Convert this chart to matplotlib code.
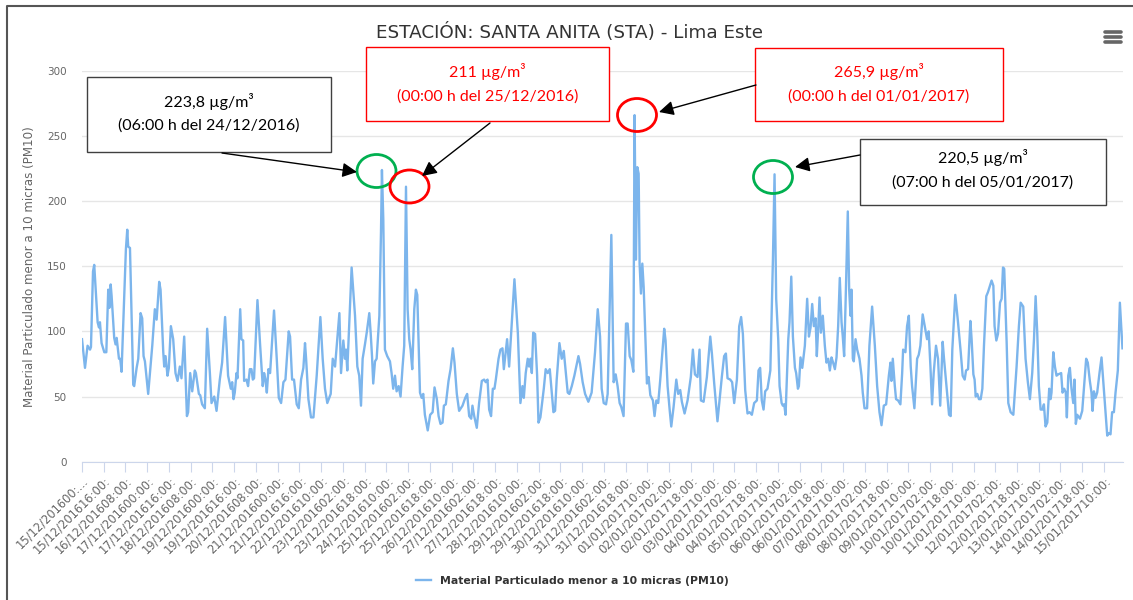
import matplotlib.pyplot as plt
import numpy as np
from matplotlib.patches import Ellipse, Rectangle, FancyArrowPatch
from matplotlib.lines import Line2D

W, H = 1133, 600

horas = [
    0, 2.2, 4.1, 5.9, 6.6, 8.1, 9.0, 11.5, 12.5, 13.2,
    14.4, 16.4, 17.9, 19.3, 20.1, 21.1, 21.8, 23.7, 24.7, 25.5,
    27.2, 28.1, 29.1, 32.3, 33.3, 34.0, 35.3, 37.7, 38.4, 40.2,
    41.4, 43.1, 44.3, 45.3, 46.3, 48.7, 51.7, 53.6, 54.9, 56.8,
    57.8, 59.8, 60.5, 61.5, 62.9, 63.9, 65.4, 67.1, 68.8, 70.3,
    72.0, 73.2, 75.2, 77.2, 78.1, 79.6, 81.1, 83.0, 83.8, 86.0,
    87.0, 88.4, 90.4, 92.1, 94.1, 95.3, 97.3, 99.0, 101.4, 103.1,
    105.3, 107.5, 109.5, 110.5, 111.5, 112.4, 113.7, 114.4, 116.4, 117.3,
    118.6, 119.3, 121.0, 122.2, 123.5, 124.7, 125.7, 126.6, 129.1, 131.1,
    133.0, 134.0, 135.0, 136.0, 137.2, 138.4, 141.3, 143.3, 144.8, 146.5,
    148.2, 149.7, 152.1, 153.1, 154.6, 156.0, 158.0, 159.5, 161.2, 162.9,
    164.1, 164.9, 166.6, 168.5, 170.3, 172.7, 175.4, 177.1, 178.8, 180.5,
    183.0, 184.5, 186.2, 189.4, 190.6, 192.3, 193.5, 194.3, 195.2, 198.4,
    200.9, 202.6, 204.0, 205.3, 206.5, 208.2, 209.5, 211.4, 212.4, 213.4,
    214.3, 215.6, 216.8, 218.8, 220.0, 220.7, 221.7, 222.9, 224.6, 226.6,
    227.8, 229.0, 230.3, 231.5, 233.0, 234.4, 235.9, 237.1, 238.4, 239.6,
    240.8, 241.8, 243.0, 244.5, 245.7, 246.7, 248.7, 249.9, 251.1, 252.3,
    254.4, 256.2, 258.0, 259.4, 261.1, 262.4, 263.8, 265.3, 266.3, 267.7,
    269.7, 271.2, 272.9, 274.1, 275.8, 277.5, 280.0, 282.0, 283.4, 284.9,
    286.4, 287.3, 288.6, 290.5, 292.2, 294.2, 295.9, 297.1, 298.4, 299.6,
    301.0, 302.3, 303.5, 304.5, 306.5, 307.9, 309.4, 310.4, 311.8, 312.8,
    314.3, 318.2, 320.7, 322.6, 324.1, 325.1, 326.5, 328.0, 329.0, 330.0,
    331.0, 332.0, 333.4, 334.9, 335.9, 337.3, 339.8, 341.2, 342.7, 344.2,
    345.7, 346.9, 348.1, 349.3, 351.3, 353.0, 354.5, 356.0, 357.4, 358.6,
    360.4, 362.3, 365.3, 366.5, 368.4, 370.2, 372.6, 375.0, 377.5, 379.5,
    381.2, 382.4, 383.9, 385.6, 386.8, 389.5, 391.2, 392.7, 394.1, 395.6,
    396.8, 398.5, 400.3, 401.5, 403.0, 404.2, 405.7, 406.6, 407.6, 408.6,
    409.6, 410.3, 411.3, 412.3, 413.3, 414.5, 415.7, 416.9, 418.2, 420.1,
    421.3, 422.6, 424.0, 425.5, 427.0, 428.4, 429.4, 430.9, 432.4, 433.6,
    435.3, 437.3, 438.7, 440.2, 441.4, 443.4, 445.6, 448.0, 449.5, 451.0,
    452.9, 454.4, 455.4, 457.4, 459.8, 462.3, 463.5, 465.2, 466.7, 467.6,
    469.1, 470.8, 472.5, 473.8, 475.0, 477.0, 478.4, 479.9, 481.9, 483.6,
    485.0, 486.3, 488.0, 489.7, 491.2, 492.9, 494.6, 496.6, 497.8, 499.0,
    500.2, 501.5, 502.7, 504.4, 506.5, 508.4, 509.6, 510.8, 512.3, 513.3,
    514.8, 515.7, 516.7, 517.7, 519.7, 520.6, 521.9, 523.1, 524.6, 525.5,
    526.8, 527.5, 528.7, 530.0, 531.9, 533.6, 534.9, 536.1, 537.3, 538.5,
    539.8, 540.7, 541.7, 542.7, 543.7, 545.1, 546.6, 547.8, 549.1, 550.3,
    551.5, 552.7, 554.0, 555.2, 556.4, 557.6, 558.9, 559.8, 560.8, 561.8,
    563.5, 564.5, 565.5, 566.2, 567.2, 567.9, 569.2, 570.4, 572.1, 573.6,
    574.5, 575.8, 577.7, 579.4, 581.4, 583.4, 585.1, 586.8, 588.3, 590.0,
    591.7, 593.7, 594.9, 595.6, 596.6, 598.1, 599.0, 600.5, 602.2, 603.5,
    604.2, 605.9, 607.1, 608.4, 609.8, 610.8, 612.5, 614.5, 615.7, 616.9,
    618.6, 620.1, 621.8, 623.0, 624.3, 625.5, 626.7, 628.4, 629.9, 631.5,
    633.3, 634.3, 636.3, 638.0, 639.2, 640.4, 642.6, 644.6, 646.6, 648.0,
    649.5, 650.5, 652.0, 653.7, 654.6, 655.9, 656.8, 657.6, 658.8, 660.0,
    661.3, 662.5, 663.7, 665.4, 666.6, 668.1, 669.3, 670.6, 671.5, 672.8,
    674.0, 675.5, 676.7, 677.7, 678.6, 680.4, 681.6, 683.3, 685.3, 687.7,
    689.4, 690.7, 692.6, 694.3, 696.0, 697.5, 699.2, 700.5, 701.7, 702.9,
    704.1, 705.4, 706.8, 707.8, 709.0, 710.3, 711.7, 712.7, 713.4, 714.7,
    715.9, 717.1, 718.3, 720.5, 721.5, 722.7, 723.9, 724.7, 725.7, 726.9,
    728.1, 729.4, 730.3, 731.3, 732.3, 734.3, 736.0, 737.2, 738.9, 740.1,
    741.6, 742.8, 743.6, 744.6, 745.8, 747.0, 748.7, 750.2, 751.4, 752.6,
    754.4, 755.6, 756.8, 758.0, 759.3, 760.5, 762.2, 763.7, 764.6, 765.6,
]
pm10 = [
    94, 72, 89, 86, 88, 146, 151, 107, 103, 107,
    91, 84, 84, 132, 118, 136, 127, 95, 90, 95,
    79, 79, 69, 163, 178, 165, 164, 59, 58, 72,
    79, 114, 110, 81, 77, 52, 89, 117, 109, 138,
    132, 84, 73, 81, 66, 72, 104, 94, 68, 62,
    73, 64, 96, 35, 38, 68, 54, 70, 68, 52,
    51, 44, 41, 102, 68, 45, 50, 39, 63, 76,
    111, 66, 56, 61, 48, 53, 68, 64, 117, 94,
    93, 62, 63, 58, 71, 71, 63, 64, 124, 89,
    58, 68, 63, 53, 71, 68, 116, 79, 49, 45,
    61, 63, 100, 96, 63, 63, 44, 41, 63, 72,
    91, 79, 48, 34, 34, 66, 111, 79, 56, 45,
    52, 79, 73, 114, 68, 93, 79, 86, 70, 149,
    112, 73, 66, 43, 79, 90, 99, 114, 99, 81,
    60, 77, 79, 112, 176, 223.8, 186, 86, 81, 77,
    68, 56, 66, 54, 58, 50, 73, 89, 211, 117,
    94, 86, 71, 117, 132, 128, 53, 49, 52, 36,
    24, 36, 38, 57, 48, 35, 29, 30, 43, 44,
    62, 71, 87, 76, 52, 39, 43, 49, 52, 35,
    33, 43, 35, 26, 45, 62, 63, 61, 63, 40,
    35, 56, 56, 63, 79, 86, 87, 71, 84, 94,
    73, 140, 99, 45, 58, 49, 68, 79, 73, 79,
    68, 99, 98, 66, 30, 34, 56, 71, 68, 71,
    53, 38, 39, 63, 91, 79, 85, 68, 53, 52,
    58, 66, 81, 75, 61, 52, 46, 53, 84, 117,
    96, 56, 45, 44, 52, 174, 61, 67, 58, 45,
    42, 35, 106, 106, 81, 78, 69, 265.9, 155, 226,
    221, 152, 129, 152, 134, 98, 60, 65, 51, 47,
    35, 47, 45, 63, 83, 102, 93, 58, 40, 27,
    42, 63, 52, 55, 46, 37, 47, 65, 86, 67,
    65, 86, 47, 46, 65, 96, 83, 60, 42, 31,
    47, 65, 81, 83, 64, 63, 61, 45, 63, 104,
    111, 98, 55, 37, 38, 36, 45, 47, 70, 72,
    47, 40, 54, 56, 70, 155, 220.5, 125, 94, 58,
    45, 43, 44, 36, 94, 107, 142, 96, 72, 68,
    56, 58, 80, 72, 89, 125, 96, 103, 121, 104,
    110, 81, 102, 126, 99, 112, 89, 76, 79, 70,
    80, 76, 71, 80, 104, 141, 107, 96, 81, 119,
    192, 132, 112, 132, 79, 77, 94, 86, 79, 66,
    53, 41, 41, 89, 119, 89, 58, 38, 28, 43,
    44, 66, 76, 62, 79, 58, 48, 47, 44, 68,
    86, 84, 104, 112, 73, 58, 41, 79, 82, 89,
    113, 104, 94, 100, 73, 44, 68, 89, 79, 43,
    92, 79, 56, 36, 35, 86, 128, 107, 84, 66,
    63, 70, 71, 108, 94, 67, 63, 50, 52, 48,
    48, 56, 89, 127, 130, 135, 139, 135, 104, 93,
    98, 122, 125, 149, 148, 91, 45, 38, 36, 73,
    104, 122, 119, 79, 61, 48, 68, 94, 127, 99,
    58, 40, 40, 44, 27, 30, 56, 48, 53, 84,
    73, 66, 67, 68, 53, 56, 53, 34, 66, 72,
    56, 45, 63, 29, 36, 33, 39, 56, 79, 76,
    62, 53, 39, 54, 49, 53, 68, 80, 63, 45,
    20, 22, 21, 38, 38, 53, 70, 122, 105, 87,
]

etiquetas = [
    "15/12/201600:…", "15/12/201616:00:", "16/12/201608:00:", "17/12/201600:00:",
    "17/12/201616:00:", "18/12/201608:00:", "19/12/201600:00:", "19/12/201616:00:",
    "20/12/201608:00:", "21/12/201600:00:", "21/12/201616:00:", "22/12/201610:00:",
    "23/12/201602:00:", "23/12/201618:00:", "24/12/201610:00:", "25/12/201602:00:",
    "25/12/201618:00:", "26/12/201610:00:", "27/12/201602:00:", "27/12/201618:00:",
    "28/12/201610:00:", "29/12/201602:00:", "29/12/201618:00:", "30/12/201610:00:",
    "31/12/201602:00:", "31/12/201618:00:", "01/01/201710:00:", "02/01/201702:00:",
    "02/01/201718:00:", "03/01/201710:00:", "04/01/201702:00:", "04/01/201718:00:",
    "05/01/201710:00:", "06/01/201702:00:", "06/01/201718:00:", "07/01/201710:00:",
    "08/01/201702:00:", "08/01/201718:00:", "09/01/201710:00:", "10/01/201702:00:",
    "10/01/201718:00:", "11/01/201710:00:", "12/01/201702:00:", "12/01/201718:00:",
    "13/01/201710:00:", "14/01/201702:00:", "14/01/201718:00:", "15/01/201710:00:",
]


def px(x, y):
    # pixel (desde arriba-izquierda) -> fraccion de figura
    return x / W, 1 - y / H


fig = plt.figure(figsize=(W / 100, H / 100), dpi=100)
ax = fig.add_axes([82 / W, 1 - 461.7 / H, (1123 - 82) / W, (461.7 - 70.7) / H])
ax.plot(horas, pm10, color='#7cb5ec', lw=1.7, solid_joinstyle='round',
        label='Material Particulado menor a 10 micras (PM10)')
ax.set_xlim(0, 766)
ax.set_ylim(0, 300)
ax.set_yticks(range(0, 301, 50))
ax.grid(axis='y', color='#e6e6e6', lw=1)
ax.set_axisbelow(True)
for s in ['top', 'right', 'left']:
    ax.spines[s].set_visible(False)
ax.spines['bottom'].set_color('#ccd6eb')
ax.tick_params(axis='y', length=0, labelsize=7.5, labelcolor='#666666', pad=11)
ax.tick_params(axis='x', length=7, color='#ccd6eb', labelsize=8.3, labelcolor='#666666', pad=2)
ax.set_xticks(np.arange(len(etiquetas)) * 16)
ax.set_xticklabels(etiquetas, rotation=45, ha='right', rotation_mode='anchor')

fig.text(*px(30, 267), 'Material Particulado menor a 10 micras (PM10)', rotation=90,
         ha='center', va='center', fontsize=8.6, color='#666666')
fig.text(*px(570, 33), 'ESTACIÓN: SANTA ANITA (STA) - Lima Este', ha='center', va='center',
         fontsize=13.2, color='#333333')

fig.legend(loc='center', bbox_to_anchor=px(572, 581), frameon=False, handlelength=1.4,
           prop={'weight': 'bold', 'size': 7.8}, labelcolor='#333333')

# menu
for yy in (32, 37, 42):
    fig.add_artist(Line2D([1105 / W, 1121 / W], [1 - yy / H] * 2, color='#666666', lw=2.6,
                          solid_capstyle='round'))

# borde del recuadro
fig.add_artist(Line2D([7 / W, 7 / W, 1], [0, 1 - 6 / H, 1 - 6 / H], color='#555555', lw=1.5))

# cuadros de texto
cuadros = [
    (87, 77, 331, 152, 'black', '#404040', '223,8 µg/m³', '(06:00 h del 24/12/2016)', 101, 126),
    (366, 47, 609, 121, 'red', 'red', '211 µg/m³', '(00:00 h del 25/12/2016)', 72, 97),
    (755, 48, 1003, 121, 'red', 'red', '265,9 µg/m³', '(00:00 h del 01/01/2017)', 72, 97),
    (860, 139, 1106, 205, 'black', '#404040', '220,5 µg/m³', '(07:00 h del 05/01/2017)', 158, 183),
]
for x0, y0, x1, y1, tc, bc, t1, t2, ya, yb in cuadros:
    fig.add_artist(Rectangle(px(x0, y1), (x1 - x0) / W, (y1 - y0) / H, transform=fig.transFigure,
                             facecolor='white', edgecolor=bc, lw=1))
    cx = (x0 + x1) / 2
    fig.text(*px(cx, ya), t1, ha='center', va='center', fontsize=11.5, color=tc, family='Lato')
    fig.text(*px(cx, yb), t2, ha='center', va='center', fontsize=11.5, color=tc, family='Lato')

# circulos
for cx, cy, col in [(376.5, 171, '#00b050'), (409.5, 186.5, 'red'), (637, 115, 'red'), (773, 177, '#00b050')]:
    fig.add_artist(Ellipse(px(cx, cy), 39 / W, 33 / H, transform=fig.transFigure,
                           facecolor='none', edgecolor=col, lw=2))

# flechas
for a, b in [((222, 153), (357, 172)), ((490, 123), (422, 176)),
             ((756, 85), (659, 112)), ((860, 155), (795, 167))]:
    fig.add_artist(FancyArrowPatch(px(*a), px(*b), transform=fig.transFigure, arrowstyle='-|>',
                                   mutation_scale=22, lw=1, color='black', shrinkA=0, shrinkB=0))

plt.savefig('out.png', dpi=100)
